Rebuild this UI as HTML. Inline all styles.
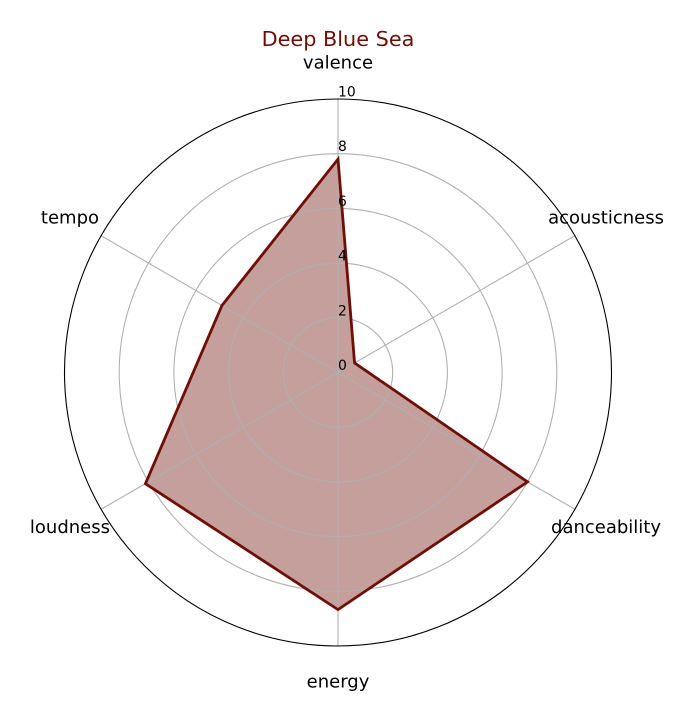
<!DOCTYPE html>
<html lang="en">
<head>
<meta charset="utf-8">
<title>Deep Blue Sea</title>
<style>
html,body{margin:0;padding:0;background:#fff;width:693px;height:721px;overflow:hidden}
svg{display:block}
text{font-family:"DejaVu Sans","Liberation Sans",sans-serif}
</style>
</head>
<body>
<svg id="chart" width="693" height="721" viewBox="0 0 693 721" xmlns="http://www.w3.org/2000/svg">
<text x="338" y="46" text-anchor="middle" font-size="20.8" fill="#6f0e06">Deep Blue Sea</text>
</svg>
<script>
const categories = ['valence', 'acousticness', 'danceability', 'energy', 'loudness', 'tempo'];
const seriesValues = [7.8, 0.7, 8.0, 8.67, 8.13, 4.9];
const tickValues = [0, 2, 4, 6, 8, 10];
const tickLabels = ['0', '2', '4', '6', '8', '10'];

const NS = 'http://www.w3.org/2000/svg';
const svg = document.getElementById('chart');
const cx = 338, cy = 372.5, R = 273.5, rMax = 10;
const GRID = '#b0b0b0', COLOR = '#6f0e06';

function rScale(v) { return v / rMax * R; }
function angle(i) { return i / categories.length * 2 * Math.PI; }
function px(i, v) { return cx + rScale(v) * Math.sin(angle(i)); }
function py(i, v) { return cy - rScale(v) * Math.cos(angle(i)); }
function make(tag, attrs) {
  const el = document.createElementNS(NS, tag);
  for (const k in attrs) el.setAttribute(k, attrs[k]);
  svg.appendChild(el);
  return el;
}

const pts = seriesValues.map(function (v, i) { return px(i, v).toFixed(2) + ',' + py(i, v).toFixed(2); }).join(' ');

// series fill sits beneath the grid
const area = make('polygon', { points: pts, fill: COLOR, 'fill-opacity': 0.4, stroke: 'none' });



// circular grid
tickValues.forEach(function (t) {
  if (t === 0 || t === rMax) return;
  const c = make('circle', { cx: cx, cy: cy, r: rScale(t), fill: 'none', stroke: GRID, 'stroke-width': 1.1 });
  
  
});

// spokes
categories.forEach(function (name, i) {
  const l = make('line', { x1: cx, y1: cy, x2: px(i, rMax), y2: py(i, rMax), stroke: GRID, 'stroke-width': 1.1 });
  
  
});

// series outline
const outline = make('polygon', { points: pts, fill: 'none', stroke: COLOR, 'stroke-width': 2.8, 'stroke-linejoin': 'miter' });



// outer border
const border = make('circle', { cx: cx, cy: cy, r: R, fill: 'none', stroke: '#000', 'stroke-width': 1.1 });



// radial tick labels
tickLabels.forEach(function (label, i) {
  const t = make('text', { x: cx, y: cy - rScale(tickValues[i]) - 2.5, 'font-size': 13.9, fill: '#000' });
  t.textContent = label;
  
  
});

// category labels, centred on a ring outside the spine
const labelR = 309.5;
categories.forEach(function (name, i) {
  const x = cx + labelR * Math.sin(angle(i));
  const y = cy - labelR * Math.cos(angle(i));
  const t = make('text', { x: x, y: y + 5.5, 'text-anchor': 'middle', 'font-size': 18, fill: '#000' });
  t.textContent = name;
  
  
});
</script>
</body>
</html>
